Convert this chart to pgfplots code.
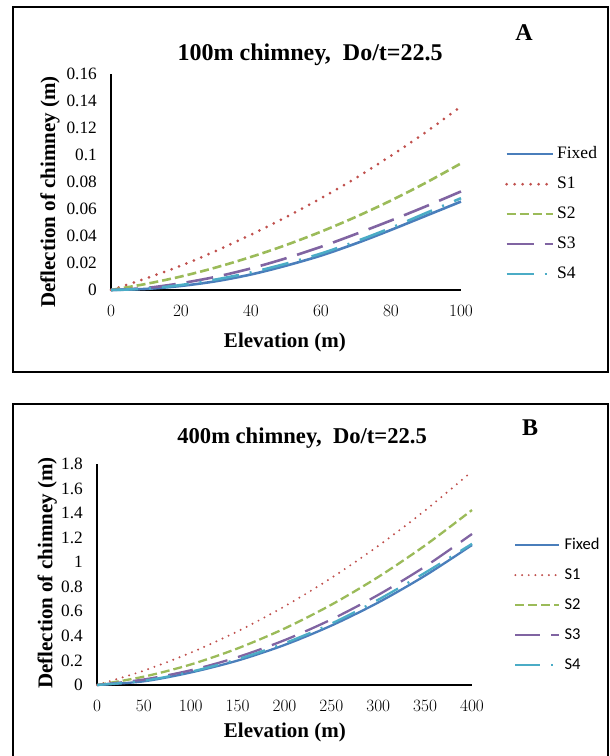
\documentclass[border=0pt]{standalone}
\usepackage{pgfplots}
\pgfplotsset{compat=1.18}
\usepackage{fontspec}
\setmainfont{Liberation Serif}
\newfontfamily\calib{Carlito}
\definecolor{cFixed}{HTML}{4A7EBB}
\definecolor{cS1}{HTML}{C0504D}
\definecolor{cS2}{HTML}{9BBB59}
\definecolor{cS3}{HTML}{8064A2}
\definecolor{cS4}{HTML}{4BACC6}
\pgfplotsset{
  common/.style={
    scale only axis,
    anchor=south west,
    axis lines=left,
    axis line style={-, line width=1.3pt, black},
    tick style={draw=none},
    major tick length=0pt,
    clip=false,
    tick label style={font=\fontsize{17.3}{20}\selectfont, inner sep=0pt},
    xticklabel style={anchor=north, yshift=-15pt},
    yticklabel style={anchor=east, xshift=-14pt},
    title style={font=\fontsize{24}{28}\selectfont\bfseries, anchor=center},
    xlabel style={font=\fontsize{21}{24}\selectfont\bfseries, anchor=center},
    ylabel style={font=\fontsize{21}{24}\selectfont\bfseries, anchor=center},
    legend cell align=left,
  },
}
\begin{document}
\begin{tikzpicture}[x=1pt,y=1pt]
\useasboundingbox (0,0) rectangle (610,756);
% frames
\draw[line width=1.2pt] (13,384) rectangle (608,749);
\draw[line width=1.2pt] (13,-5) rectangle (608,352);
\node[font=\fontsize{24}{28}\selectfont\bfseries] at (524,723) {A};
\node[font=\fontsize{24}{28}\selectfont\bfseries] at (530,328) {B};

% ---------- Panel A ----------
\begin{axis}[common,
  at={(111pt,466pt)}, width=350pt, height=216pt,
  xmin=0, xmax=100, ymin=0, ymax=0.16,
  xtick={0,20,40,60,80,100},
  ytick={0,0.02,0.04,0.06,0.08,0.1,0.12,0.14,0.16},
  yticklabels={0,0.02,0.04,0.06,0.08,0.1,0.12,0.14,0.16},
  title={100m chimney,\ \ Do/t=22.5},
  title style={at={(axis description cs:0.569,1.060)}},
  xlabel={Elevation (m)},
  xlabel style={at={(axis description cs:0.497,-0.245)}},
  ylabel={Deflection of chimney (m)},
  ylabel style={at={(axis description cs:-0.174,0.454)}},
  legend style={draw=none, fill=none, at={(axis description cs:1.117,0.676)}, anchor=north west,
    font=\fontsize{17.5}{20}\selectfont,
    nodes={inner sep=0pt, text height=12pt, text depth=4pt},
    row sep=14pt,
    /tikz/every odd column/.append style={column sep=3pt}},
  legend image code/.code={\draw[#1] (0pt,0pt) -- (46pt,0pt);},
]
\addplot[cFixed, line width=2.6pt, smooth] coordinates {
(0,0) (10,0.0008) (20,0.003) (30,0.0065) (40,0.0115) (50,0.018) (60,0.0255) (70,0.0345) (80,0.0445) (90,0.055) (100,0.0655)};
\addlegendentry{Fixed}
\addplot[cS1, line width=3pt, line cap=round, dash pattern=on 0pt off 8pt, smooth] coordinates {
(0,0) (10,0.0086) (20,0.018) (30,0.029) (40,0.041) (50,0.054) (60,0.068) (70,0.083) (80,0.0995) (90,0.117) (100,0.136)};
\addlegendentry{S1}
\addplot[cS2, line width=2.6pt, dash pattern=on 9pt off 4pt, smooth] coordinates {
(0,0) (10,0.0045) (20,0.010) (30,0.0167) (40,0.0245) (50,0.0333) (60,0.0432) (70,0.0542) (80,0.0663) (90,0.0795) (100,0.0938)};
\addlegendentry{S2}
\addplot[cS3, line width=2.6pt, dash pattern=on 27pt off 11pt, smooth] coordinates {
(0,0) (10,0.0015) (20,0.005) (30,0.0098) (40,0.016) (50,0.0235) (60,0.032) (70,0.0415) (80,0.0515) (90,0.062) (100,0.073)};
\addlegendentry{S3}
\addplot[cS4, line width=2.6pt, dash pattern=on 27pt off 11pt on 2pt off 11pt, smooth] coordinates {
(0,0) (10,0.001) (20,0.0037) (30,0.0078) (40,0.013) (50,0.0195) (60,0.027) (70,0.036) (80,0.046) (90,0.057) (100,0.068)};
\addlegendentry{S4}
\end{axis}

% ---------- Panel B ----------
\begin{axis}[common,
  at={(97pt,71pt)}, width=375pt, height=221pt,
  xmin=0, xmax=400, ymin=0, ymax=1.8,
  xtick={0,50,100,150,200,250,300,350,400},
  ytick={0,0.2,0.4,0.6,0.8,1,1.2,1.4,1.6,1.8},
  yticklabels={0,0.2,0.4,0.6,0.8,1,1.2,1.4,1.6,1.8},
  title={400m chimney,\ \ Do/t=22.5},
  title style={font=\fontsize{22.6}{27}\selectfont\bfseries, at={(axis description cs:0.547,1.090)}},
  xlabel={Elevation (m)},
  xlabel style={at={(axis description cs:0.501,-0.213)}},
  ylabel={Deflection of chimney (m)},
  ylabel style={at={(axis description cs:-0.133,0.507)}},
  legend style={draw=none, fill=none, at={(axis description cs:1.104,0.679)}, anchor=north west,
    font=\calib\fontsize{16.5}{20}\selectfont,
    nodes={inner sep=0pt, text height=12pt, text depth=4pt},
    row sep=14pt,
    /tikz/every odd column/.append style={column sep=4pt}},
  legend image code/.code={\draw[#1] (0pt,0pt) -- (44pt,0pt);},
]
\addplot[cFixed, line width=2.3pt, smooth] coordinates {
(0,0) (50,0.03) (100,0.102) (150,0.199) (200,0.326) (250,0.484) (300,0.672) (350,0.891) (400,1.14)};
\addlegendentry{Fixed}
\addplot[cS1, line width=2.2pt, line cap=round, dash pattern=on 0pt off 6.7pt, smooth] coordinates {
(0,0) (50,0.117) (100,0.263) (150,0.437) (200,0.64) (250,0.872) (300,1.133) (350,1.422) (400,1.74)};
\addlegendentry{S1}
\addplot[cS2, line width=2.3pt, dash pattern=on 9pt off 4pt, smooth] coordinates {
(0,0) (50,0.068) (100,0.167) (150,0.298) (200,0.46) (250,0.654) (300,0.88) (350,1.137) (400,1.425)};
\addlegendentry{S2}
\addplot[cS3, line width=2.3pt, dash pattern=on 25pt off 11pt, smooth] coordinates {
(0,0) (50,0.045) (100,0.12) (150,0.227) (200,0.365) (250,0.534) (300,0.734) (350,0.965) (400,1.23)};
\addlegendentry{S3}
\addplot[cS4, line width=2.3pt, dash pattern=on 25pt off 11pt on 2pt off 11pt, smooth] coordinates {
(0,0) (50,0.035) (100,0.108) (150,0.21) (200,0.34) (250,0.50) (300,0.695) (350,0.915) (400,1.15)};
\addlegendentry{S4}
\end{axis}
\end{tikzpicture}
\end{document}
